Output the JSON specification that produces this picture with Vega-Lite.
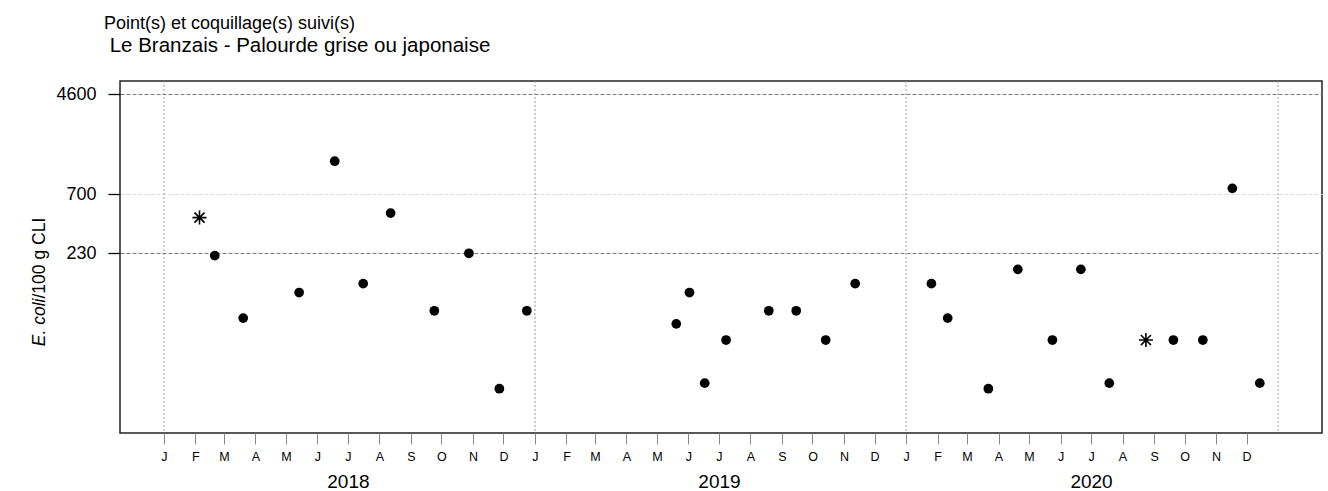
{
  "$schema": "https://vega.github.io/schema/vega-lite/v6.json",
  "autosize": {"type": "none"},
  "padding": {"left": 120, "top": 81, "right": 6, "bottom": 58},
  "width": 1202,
  "height": 352,
  "background": "white",
  "title": {
    "text": "Point(s) et coquillage(s) suivi(s)",
    "subtitle": "\u200b\u00a0Le Branzais - Palourde grise ou japonaise",
    "anchor": "start",
    "frame": "group",
    "font": "Liberation Sans",
    "subtitleFont": "Liberation Sans",
    "fontSize": 18,
    "subtitleFontSize": 20.5,
    "fontWeight": "normal",
    "color": "black",
    "subtitleColor": "black",
    "subtitlePadding": 3,
    "dx": -16,
    "offset": 24
  },
  "data": {
    "values": [
      {"date": "2018-02-05", "value": 450, "marker": "star"},
      {"date": "2018-02-20", "value": 220, "marker": "circle"},
      {"date": "2018-03-20", "value": 68, "marker": "circle"},
      {"date": "2018-05-14", "value": 110, "marker": "circle"},
      {"date": "2018-06-18", "value": 1300, "marker": "circle"},
      {"date": "2018-07-16", "value": 130, "marker": "circle"},
      {"date": "2018-08-12", "value": 490, "marker": "circle"},
      {"date": "2018-09-24", "value": 78, "marker": "circle"},
      {"date": "2018-10-28", "value": 230, "marker": "circle"},
      {"date": "2018-11-27", "value": 18, "marker": "circle"},
      {"date": "2018-12-24", "value": 78, "marker": "circle"},
      {"date": "2019-05-20", "value": 61, "marker": "circle"},
      {"date": "2019-06-02", "value": 110, "marker": "circle"},
      {"date": "2019-06-17", "value": 20, "marker": "circle"},
      {"date": "2019-07-08", "value": 45, "marker": "circle"},
      {"date": "2019-08-19", "value": 78, "marker": "circle"},
      {"date": "2019-09-15", "value": 78, "marker": "circle"},
      {"date": "2019-10-14", "value": 45, "marker": "circle"},
      {"date": "2019-11-12", "value": 130, "marker": "circle"},
      {"date": "2020-01-26", "value": 130, "marker": "circle"},
      {"date": "2020-02-11", "value": 68, "marker": "circle"},
      {"date": "2020-03-22", "value": 18, "marker": "circle"},
      {"date": "2020-04-20", "value": 170, "marker": "circle"},
      {"date": "2020-05-24", "value": 45, "marker": "circle"},
      {"date": "2020-06-21", "value": 170, "marker": "circle"},
      {"date": "2020-07-19", "value": 20, "marker": "circle"},
      {"date": "2020-08-24", "value": 45, "marker": "star"},
      {"date": "2020-09-20", "value": 45, "marker": "circle"},
      {"date": "2020-10-19", "value": 45, "marker": "circle"},
      {"date": "2020-11-17", "value": 780, "marker": "circle"},
      {"date": "2020-12-14", "value": 20, "marker": "circle"}
    ]
  },
  "layer": [
    {
      "data": {"values": [
        {"gridDate": "2018-01-01"},
        {"gridDate": "2019-01-01"},
        {"gridDate": "2020-01-01"},
        {"gridDate": "2021-01-01"}
      ]},
      "mark": {"type": "rule", "color": "#9a9a9a", "strokeWidth": 1, "strokeDash": [2, 2]},
      "encoding": {
        "x": {
          "field": "gridDate",
          "type": "temporal",
          "scale": {"type": "utc", "domain": [
            {"year": 2017, "month": 11, "date": 18, "hours": 19, "utc": true},
            {"year": 2021, "month": 2, "date": 13, "hours": 5, "utc": true}
          ]},
          "axis": {
            "orient": "bottom",
            "title": null,
            "domain": false,
            "ticks": false,
            "grid": false,
            "values": [
              {"year": 2018, "month": 7, "date": 1, "utc": true},
              {"year": 2019, "month": 7, "date": 1, "utc": true},
              {"year": 2020, "month": 7, "date": 1, "utc": true}
            ],
            "labelExpr": "utcFormat(datum.value, '%Y')",
            "labelFontSize": 19,
            "labelPadding": 39,
            "labelFont": "Liberation Sans",
            "labelColor": "black"
          }
        }
      }
    },
    {
      "transform": [{"filter": "datum.marker == 'circle'"}],
      "mark": {"type": "point", "shape": "circle", "filled": true, "color": "black", "size": 95, "opacity": 1},
      "encoding": {
        "x": {
          "field": "date",
          "type": "temporal",
          "scale": {"type": "utc", "domain": [
            {"year": 2017, "month": 11, "date": 18, "hours": 19, "utc": true},
            {"year": 2021, "month": 2, "date": 13, "hours": 5, "utc": true}
          ]},
          "axis": {
            "orient": "bottom",
            "title": null,
            "domain": false,
            "grid": false,
            "tickColor": "#8a8a8a",
            "tickSize": 11,
            "tickWidth": 1,
            "labelPadding": 6,
            "labelFontSize": 12.5,
            "labelFont": "Liberation Sans",
            "labelColor": "black",
            "labelAlign": "center",
            "labelOverlap": false,
            "labelExpr": "substring(utcFormat(datum.value, '%b'), 0, 1)",
            "values": [
              {"year": 2018, "month": 1, "date": 1, "utc": true},
              {"year": 2018, "month": 2, "date": 1, "utc": true},
              {"year": 2018, "month": 3, "date": 1, "utc": true},
              {"year": 2018, "month": 4, "date": 1, "utc": true},
              {"year": 2018, "month": 5, "date": 1, "utc": true},
              {"year": 2018, "month": 6, "date": 1, "utc": true},
              {"year": 2018, "month": 7, "date": 1, "utc": true},
              {"year": 2018, "month": 8, "date": 1, "utc": true},
              {"year": 2018, "month": 9, "date": 1, "utc": true},
              {"year": 2018, "month": 10, "date": 1, "utc": true},
              {"year": 2018, "month": 11, "date": 1, "utc": true},
              {"year": 2018, "month": 12, "date": 1, "utc": true},
              {"year": 2019, "month": 1, "date": 1, "utc": true},
              {"year": 2019, "month": 2, "date": 1, "utc": true},
              {"year": 2019, "month": 3, "date": 1, "utc": true},
              {"year": 2019, "month": 4, "date": 1, "utc": true},
              {"year": 2019, "month": 5, "date": 1, "utc": true},
              {"year": 2019, "month": 6, "date": 1, "utc": true},
              {"year": 2019, "month": 7, "date": 1, "utc": true},
              {"year": 2019, "month": 8, "date": 1, "utc": true},
              {"year": 2019, "month": 9, "date": 1, "utc": true},
              {"year": 2019, "month": 10, "date": 1, "utc": true},
              {"year": 2019, "month": 11, "date": 1, "utc": true},
              {"year": 2019, "month": 12, "date": 1, "utc": true},
              {"year": 2020, "month": 1, "date": 1, "utc": true},
              {"year": 2020, "month": 2, "date": 1, "utc": true},
              {"year": 2020, "month": 3, "date": 1, "utc": true},
              {"year": 2020, "month": 4, "date": 1, "utc": true},
              {"year": 2020, "month": 5, "date": 1, "utc": true},
              {"year": 2020, "month": 6, "date": 1, "utc": true},
              {"year": 2020, "month": 7, "date": 1, "utc": true},
              {"year": 2020, "month": 8, "date": 1, "utc": true},
              {"year": 2020, "month": 9, "date": 1, "utc": true},
              {"year": 2020, "month": 10, "date": 1, "utc": true},
              {"year": 2020, "month": 11, "date": 1, "utc": true},
              {"year": 2020, "month": 12, "date": 1, "utc": true}
            ]
          }
        },
        "y": {
          "field": "value",
          "type": "quantitative",
          "scale": {"type": "log", "domain": [7.83, 5877], "nice": false, "zero": false},
          "axis": {
            "orient": "left",
            "values": [230, 700, 4600],
            "format": "d",
            "domain": false,
            "tickColor": "black",
            "tickSize": 12,
            "tickWidth": 1.3,
            "labelPadding": 12,
            "labelFontSize": 18,
            "labelFont": "Liberation Sans",
            "labelColor": "black",
            "grid": true,
            "gridColor": {"condition": {"test": "datum.value == 700", "value": "#dcdcdc"}, "value": "#7a7a7a"},
            "gridDash": [4, 2],
            "gridWidth": 1,
            "title": "E. coli",
            "titleFontStyle": "italic",
            "titleFontWeight": "normal",
            "titleFontSize": 17.5,
            "titleFont": "Liberation Sans",
            "titleColor": "black",
            "titleAngle": 270,
            "titleAlign": "right",
            "titleBaseline": "middle",
            "titleX": -81,
            "titleY": 217
          }
        }
      }
    },
    {
      "transform": [{"filter": "datum.marker == 'star'"}],
      "mark": {
        "type": "point",
        "shape": "M-1,0L1,0M0,-1L0,1M-0.72,-0.72L0.72,0.72M-0.72,0.72L0.72,-0.72",
        "filled": false,
        "stroke": "black",
        "strokeWidth": 1.6,
        "size": 196,
        "opacity": 1
      },
      "encoding": {
        "x": {
          "field": "date",
          "type": "temporal",
          "scale": {"type": "utc", "domain": [
            {"year": 2017, "month": 11, "date": 18, "hours": 19, "utc": true},
            {"year": 2021, "month": 2, "date": 13, "hours": 5, "utc": true}
          ]},
          "axis": null
        },
        "y": {
          "field": "value",
          "type": "quantitative",
          "scale": {"type": "log", "domain": [7.83, 5877], "nice": false, "zero": false},
          "axis": {
            "orient": "left",
            "values": [],
            "labels": false,
            "ticks": false,
            "domain": false,
            "grid": false,
            "title": "/100 g CLI",
            "titleFontWeight": "normal",
            "titleFontSize": 17.5,
            "titleFont": "Liberation Sans",
            "titleColor": "black",
            "titleAngle": 270,
            "titleAlign": "left",
            "titleBaseline": "middle",
            "titleX": -81,
            "titleY": 217
          }
        }
      }
    }
  ],
  "resolve": {"scale": {"x": "independent", "y": "independent"}},
  "config": {
    "font": "Liberation Sans",
    "view": {"stroke": "#222", "strokeWidth": 1.5}
  }
}
